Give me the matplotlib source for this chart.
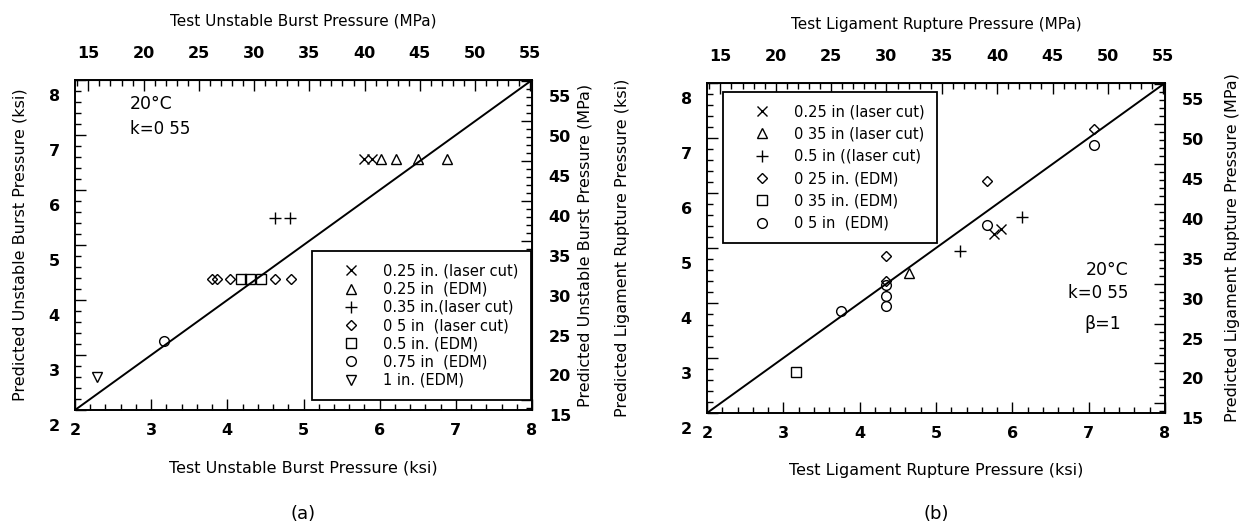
import numpy as np
from matplotlib import pyplot as plt
from matplotlib.ticker import MultipleLocator
from matplotlib.transforms import ScaledTranslation

plt.rcParams['font.family'] = ['DejaVu Sans']

KSI_MPA = 6.894757

# (a) unstable burst, values in ksi (test, predicted)
a_x_laser025 = [5.80, 5.90]
a_y_laser025 = [6.57, 6.57]
a_x_edm025 = [6.02, 6.22, 6.50, 6.88]
a_y_edm025 = [6.57, 6.57, 6.57, 6.57]
a_x_laser035 = [4.62, 4.82]
a_y_laser035 = [5.49, 5.49]
a_x_laser05 = [3.80, 3.86, 4.04, 4.63, 4.84]
a_y_laser05 = [4.38, 4.38, 4.38, 4.38, 4.38]
a_x_edm05 = [4.18, 4.30, 4.44]
a_y_edm05 = [4.38, 4.38, 4.38]
a_x_edm075 = [3.17]
a_y_edm075 = [3.26]
a_x_edm1 = [2.29]
a_y_edm1 = [2.60]
a_labels = ['0.25 in. (laser cut)', '0.25 in  (EDM)', '0.35 in.(laser cut)',
            '0 5 in  (laser cut)', '0.5 in. (EDM)', '0.75 in  (EDM)', '1 in. (EDM)']
a_markers = ['x', '^', '+', 'D', 's', 'o', 'v']

# (b) ligament rupture, ksi
b_x_laser025 = [5.76, 5.85]
b_y_laser025 = [5.25, 5.35]
b_x_laser035 = [4.64]
b_y_laser035 = [4.54]
b_x_laser05 = [5.31, 6.13]
b_y_laser05 = [4.95, 5.56]
b_x_edm025 = [4.34, 4.34, 5.67, 7.07]
b_y_edm025 = [4.86, 4.40, 6.22, 7.16]
b_x_edm035 = [3.17]
b_y_edm035 = [2.74]
b_x_edm05 = [3.76, 4.34, 4.34, 4.34, 5.67, 7.07]
b_y_edm05 = [3.85, 4.33, 4.12, 3.95, 5.42, 6.87]
b_labels = ['0.25 in (laser cut)', '0 35 in (laser cut)', '0.5 in ((laser cut)',
            '0 25 in. (EDM)', '0 35 in. (EDM)', '0 5 in  (EDM)']
b_markers = ['x', '^', '+', 'D', 's', 'o']

diag = [2, 8]
ksi_ticks = [2, 3, 4, 5, 6, 7, 8]
mpa_ticks = [15, 20, 25, 30, 35, 40, 45, 50, 55]

msize = {'x': 7.5, '^': 6.5, '+': 8, 'D': 5.2, 's': 6.5, 'o': 7, 'v': 6.5}


def bold(labels):
    for lab in labels:
        lab.set_fontweight('bold')


def panel(ax, series, labels, markers, name, leg_loc, leg_anchor, spacing):
    ax.plot(diag, diag, color='black', lw=1.4, zorder=1)
    for (xs, ys), lab, mk in zip(series, labels, markers):
        ax.plot(xs, ys, ls='none', marker=mk, ms=msize[mk], mfc='none',
                mec='black', mew=1.0, label=lab)
    ax.set_xlim(2, 8)
    ax.set_ylim(2, 8)
    ax.set_xticks(ksi_ticks)
    ax.set_yticks(ksi_ticks)
    ax.xaxis.set_minor_locator(MultipleLocator(0.2))
    ax.yaxis.set_minor_locator(MultipleLocator(0.2))
    ax.tick_params(which='both', direction='in', top=False, right=False,
                   labelsize=11.5, width=1.0)
    ax.tick_params(which='major', length=8)
    ax.tick_params(which='minor', length=4)
    ax.tick_params(axis='x', pad=9)
    ax.tick_params(axis='y', pad=11)
    for s in ax.spines.values():
        s.set_linewidth(1.4)

    top = ax.secondary_xaxis('top', functions=(lambda v: v * KSI_MPA, lambda v: v / KSI_MPA))
    right = ax.secondary_yaxis('right', functions=(lambda v: v * KSI_MPA, lambda v: v / KSI_MPA))
    for sec, axis in ((top, top.xaxis), (right, right.yaxis)):
        axis.set_ticks(mpa_ticks)
        axis.set_minor_locator(MultipleLocator(1))
        sec.tick_params(which='both', direction='in', labelsize=11.5, width=1.0)
        sec.tick_params(which='major', length=8)
        sec.tick_params(which='minor', length=4)
    top.tick_params(pad=14)
    right.tick_params(pad=12)

    ax.set_xlabel('Test ' + name + ' Pressure (ksi)', fontsize=11.5)
    top.set_xlabel('Test ' + name + ' Pressure (MPa)', fontsize=11)
    ax.set_ylabel('Predicted ' + name + ' Pressure (ksi)', fontsize=11.5)
    right.set_ylabel('Predicted ' + name + ' Pressure (MPa)', fontsize=11.5)

    bold(ax.get_xticklabels() + ax.get_yticklabels()
         + top.get_xticklabels() + right.get_yticklabels())

    # vertical tick labels sit a little low in the original
    shift = ScaledTranslation(0, -0.15, ax.figure.dpi_scale_trans)
    for lab in ax.get_yticklabels() + right.get_yticklabels():
        lab.set_transform(lab.get_transform() + shift)

    leg = ax.legend(loc=leg_loc, bbox_to_anchor=leg_anchor, frameon=True, fancybox=False,
                    edgecolor='black', framealpha=1, borderpad=0.85, handlelength=3.6,
                    handletextpad=0.4, labelspacing=spacing, fontsize=10.5,
                    borderaxespad=0)
    leg.get_frame().set_linewidth(1.3)
    return top, right


fig = plt.figure(figsize=(12.44, 5.27), dpi=100)
ax_a = fig.add_axes([0.0603, 0.222, 0.3674, 0.6262])
ax_b = fig.add_axes([0.5683, 0.2163, 0.3682, 0.6262])

series_a = [(a_x_laser025, a_y_laser025), (a_x_edm025, a_y_edm025),
            (a_x_laser035, a_y_laser035), (a_x_laser05, a_y_laser05),
            (a_x_edm05, a_y_edm05), (a_x_edm075, a_y_edm075), (a_x_edm1, a_y_edm1)]
series_b = [(b_x_laser025, b_y_laser025), (b_x_laser035, b_y_laser035),
            (b_x_laser05, b_y_laser05), (b_x_edm025, b_y_edm025),
            (b_x_edm035, b_y_edm035), (b_x_edm05, b_y_edm05)]

top_a, right_a = panel(ax_a, series_a, a_labels, a_markers, 'Unstable Burst',
                       'lower right', (0.997, 0.03), 0.22)
top_b, right_b = panel(ax_b, series_b, b_labels, b_markers, 'Ligament Rupture',
                       'upper left', (0.035, 0.973), 0.5)

ax_a.xaxis.set_label_coords(0.5, -0.152)
top_a.xaxis.set_label_coords(0.5, 1.165, transform=ax_a.transAxes)
ax_a.yaxis.set_label_coords(-0.105, 0.5)
right_a.yaxis.set_label_coords(1.10, 0.5, transform=ax_a.transAxes)
ax_b.xaxis.set_label_coords(0.5, -0.152)
top_b.xaxis.set_label_coords(0.5, 1.165, transform=ax_b.transAxes)
ax_b.yaxis.set_label_coords(-0.168, 0.5)
right_b.yaxis.set_label_coords(1.13, 0.5, transform=ax_b.transAxes)

ax_a.text(2.72, 7.56, '20°C', fontsize=12.5, va='center', ha='left')
ax_a.text(2.72, 7.10, 'k=0 55', fontsize=12, va='center', ha='left')
ax_b.text(0.92, 0.434, '20°C', fontsize=12.5, va='center', ha='right', transform=ax_b.transAxes)
ax_b.text(0.92, 0.364, 'k=0 55', fontsize=12, va='center', ha='right', transform=ax_b.transAxes)
ax_b.text(0.864, 0.269, 'β=1', fontsize=12.5, va='center', ha='center', transform=ax_b.transAxes)

fig.text(0.2435, 0.025, '(a)', fontsize=13, ha='center', va='center')
fig.text(0.7524, 0.025, '(b)', fontsize=13, ha='center', va='center')

fig.savefig('out.png', dpi=100)
